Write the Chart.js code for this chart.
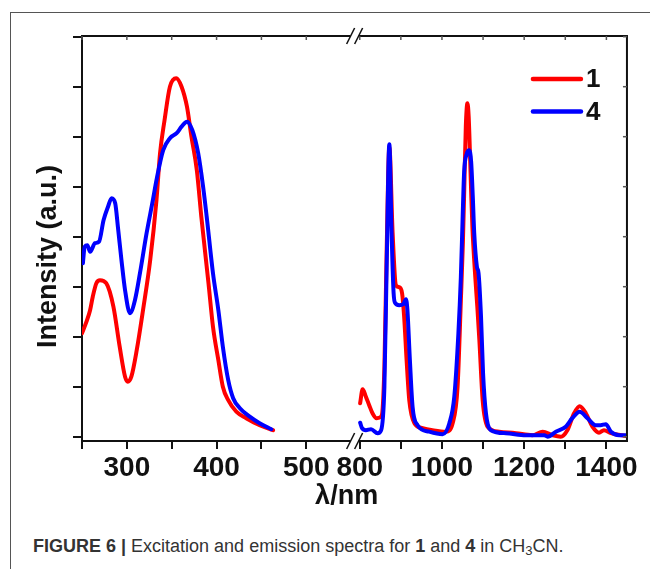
<!DOCTYPE html>
<html><head><meta charset="utf-8">
<script src="https://cdn.jsdelivr.net/npm/chart.js@4.4.0/dist/chart.umd.min.js"></script>
<style>
html,body{margin:0;padding:0;background:#fff;width:650px;height:569px;overflow:hidden;}
#frame{position:absolute;left:10px;top:12px;width:700px;height:600px;border-left:1px solid #555;border-top:1px solid #555;}
#wrap{position:absolute;left:0;top:0;width:650px;height:525px;}
#caption{position:absolute;left:33px;top:536px;font:18px "Liberation Sans",Arial,sans-serif;color:#333;white-space:nowrap;}
#caption sub{font-size:13px;vertical-align:-3px;line-height:0;}
</style></head><body>
<div id="frame"></div>
<div id="wrap"><canvas id="c" width="650" height="525"></canvas></div>
<div id="caption"><b>FIGURE 6 |</b> Excitation and emission spectra for <b>1</b> and <b>4</b> in CH<sub>3</sub>CN.</div>
<script>
// ---- data ----
const seriesLabels = ['1', '4'];
const seriesColors = ['#ff0000', '#0000ff'];

// excitation, compound 1 (red)
const redExWl = [250,255,259,262,266,270,277,285,292,298,301,305,311,318,326,333,337,342,348,355,361,367,372,378,383,391,396,402,407,413,422,433,448,463];
const redExI  = [2.07,2.3,2.53,2.8,3.07,3.13,3.07,2.6,1.8,1.2,1.1,1.2,1.73,2.53,3.53,4.73,5.67,6.33,7.0,7.17,7.0,6.6,6.0,5.33,4.4,3.07,2.2,1.53,1.0,0.73,0.5,0.37,0.23,0.13];
// excitation, compound 4 (blue)
const blueExWl = [251,253,256,259,264.5,269,274,279,283,287,290,294,298,303.5,309,314.6,322,329,333,340.5,348,355.5,361,367,373,379.5,385,389,396,402,407,413,418.5,426,437,448,461];
const blueExI  = [3.47,3.8,3.83,3.7,3.87,3.9,4.33,4.6,4.77,4.67,4.2,3.53,2.93,2.47,2.73,3.27,4.07,4.73,5.13,5.73,5.97,6.07,6.2,6.3,6.13,5.67,5.0,4.4,3.27,2.53,1.8,1.13,0.77,0.57,0.4,0.27,0.15];
// emission, compound 1 (red)
const redEmWl = [801,807,815,823,831,841,852,860,865.5,872,880,888,896,903,908,914,920.5,933,953,977,1010,1026,1038,1046,1051,1055,1058,1062,1065,1068,1071,1074,1081,1086,1091,1099,1111,1139,1180,1220,1245,1269,1289,1305,1321.5,1335,1350,1366,1382,1394,1411,1450];
const redEmI  = [0.67,0.95,0.8,0.63,0.47,0.37,0.4,1.4,3.73,5.8,4.07,3.03,2.99,2.87,2.4,1.53,0.73,0.27,0.17,0.13,0.1,0.27,1.0,2.73,3.9,5.2,6.2,6.67,6.4,5.7,4.9,4.2,3.2,2.6,1.93,0.73,0.2,0.1,0.07,0.03,0.1,0.03,0.0,0.13,0.47,0.61,0.47,0.2,0.08,0.13,0.07,0.01];
// emission, compound 4 (blue)
const blueEmWl = [801,805.6,815,827.5,843.5,852,860,865.5,872,877.5,882.4,886.5,896,906,912.5,916,922,928.5,940.7,969,1001.5,1018,1030,1040,1046,1050,1054,1060,1066,1071,1075,1078.5,1085,1089,1095,1100,1107,1119,1155.5,1204,1249,1257,1277,1301,1317,1335,1354,1374,1386,1398.5,1411,1431,1450];
const blueEmI  = [0.28,0.17,0.13,0.15,0.07,0.13,1.0,3.4,5.85,4.07,2.87,2.67,2.63,2.65,2.75,2.53,1.53,0.6,0.23,0.1,0.05,0.27,0.8,2.07,3.2,4.3,5.3,5.65,5.73,5.5,4.8,4.07,3.4,3.27,2.4,1.27,0.47,0.13,0.07,0.03,0.03,0.0,0.1,0.2,0.37,0.5,0.37,0.23,0.23,0.25,0.1,0.03,0.03];

// axes
const x1Ticks = [250,300,350,400,450,500];
const x1Labels = [300,400,500];
const x2Ticks = [800,900,1000,1100,1200,1300,1400];
const x2Labels = [800,1000,1200,1400];
const yTicks = [0,1,2,3,4,5,6,7,8];
const xTitle = 'λ/nm';
const yTitle = 'Intensity (a.u.)';

// ---- chart ----
const pts = (xs, ys) => xs.map((x, i) => ({x: x, y: ys[i]}));
const tickFont = {family: '"Liberation Sans Narrow","Liberation Sans",Arial,sans-serif', size: 28, weight: 'bold'};
const boldFam = '"Liberation Sans",Arial,sans-serif';

function ds(label, color, xs, ys, xAxis, order) {
  return {label: label, data: pts(xs, ys), xAxisID: xAxis, yAxisID: 'y', borderColor: color,
    backgroundColor: color, borderWidth: 4, pointRadius: 0, fill: false, order: order,
    cubicInterpolationMode: 'monotone', borderJoinStyle: 'round', borderCapStyle: 'round'};
}

const decor = {
  id: 'decor',
  afterDraw(chart) {
    const {ctx, chartArea: a, scales} = chart;
    ctx.save();
    ctx.strokeStyle = '#111'; ctx.lineWidth = 2;
    ctx.beginPath(); ctx.moveTo(a.left - 1, a.top); ctx.lineTo(a.right, a.top); ctx.lineTo(a.right, a.bottom + 1); ctx.stroke();
    // mirrored inner ticks
    ctx.lineWidth = 1.5; ctx.strokeStyle = '#555';
    for (const id of ['x1', 'x2']) {
      const s = scales[id];
      for (const t of s.ticks) {
        const px = s.getPixelForValue(t.value);
        ctx.beginPath(); ctx.moveTo(px, a.top); ctx.lineTo(px, a.top + 4); ctx.stroke();
      }
    }
    const ys = scales.y;
    for (const t of ys.ticks) {
      const py = ys.getPixelForValue(t.value);
      ctx.beginPath(); ctx.moveTo(a.right, py); ctx.lineTo(a.right - 4, py); ctx.stroke();
    }
    // axis break marks
    const bx = scales.x1.right;
    const c1 = bx - 5, c2 = bx + 3;
    for (const yy of [a.top, a.bottom]) {
      ctx.fillStyle = '#fff'; ctx.fillRect(c1, yy - 2, c2 - c1, 4);
      ctx.strokeStyle = '#111'; ctx.lineWidth = 1.6;
      for (const cx of [c1, c2]) {
        ctx.beginPath(); ctx.moveTo(cx - 4, yy + 8); ctx.lineTo(cx + 4, yy - 8); ctx.stroke();
      }
    }
    // legend
    ctx.lineCap = 'round'; ctx.lineWidth = 4.5;
    ctx.font = 'bold 26px ' + boldFam; ctx.textAlign = 'left'; ctx.textBaseline = 'middle';
    seriesLabels.forEach((lab, i) => {
      const ly = a.top + 43 + i * 32.5;
      ctx.strokeStyle = seriesColors[i];
      ctx.beginPath(); ctx.moveTo(a.right - 94, ly); ctx.lineTo(a.right - 46, ly); ctx.stroke();
      ctx.fillStyle = '#111'; ctx.fillText(lab, a.right - 41, ly + 1);
    });
    // x title
    ctx.font = 'bold 27px ' + boldFam; ctx.textAlign = 'center'; ctx.fillStyle = '#111';
    ctx.fillText(xTitle, bx - 9, 497);
    // y title
    ctx.translate(49, (a.top + a.bottom) / 2 + 18);
    ctx.rotate(-Math.PI / 2);
    ctx.fillText(yTitle, 0, 0);
    ctx.restore();
  }
};

const xAxis = (ticks, labels, min, max, weight) => ({
  type: 'linear', position: 'bottom', stack: 'xb', stackWeight: weight, min: min, max: max, offset: false,
  afterBuildTicks: s => { s.ticks = ticks.map(v => ({value: v})); },
  afterFit: s => { s.height = 84; },
  ticks: {callback: v => labels.includes(v) ? String(v) : '', autoSkip: false, maxRotation: 0, minRotation: 0,
    padding: 2, font: tickFont, color: '#111'},
  grid: {drawOnChartArea: false, drawTicks: true, tickLength: 8, lineWidth: 2, color: '#111', tickColor: '#111'},
  border: {display: true, width: 2, color: '#111'}
});

new Chart(document.getElementById('c'), {
  type: 'line',
  data: {datasets: [
    ds(seriesLabels[1], seriesColors[1], blueExWl, blueExI, 'x1', 1),
    ds(seriesLabels[1], seriesColors[1], blueEmWl, blueEmI, 'x2', 1),
    ds(seriesLabels[0], seriesColors[0], redExWl, redExI, 'x1', 2),
    ds(seriesLabels[0], seriesColors[0], redEmWl, redEmI, 'x2', 2)
  ]},
  options: {
    responsive: false, animation: false, devicePixelRatio: 1,
    layout: {padding: {top: 36, right: 22, left: 0, bottom: 0}},
    plugins: {legend: {display: false}, tooltip: {enabled: false}},
    scales: {
      x1: xAxis(x1Ticks, x1Labels, 250, 555, 273.9),
      x2: xAxis(x2Ticks, x2Labels, 790, 1450, 271.6),
      y: {
        position: 'left', min: -0.086, max: 8.014,
        afterBuildTicks: s => { s.ticks = yTicks.map(v => ({value: v})); },
        afterFit: s => { s.width = 82; },
        ticks: {callback: () => '', padding: 0},
        grid: {drawOnChartArea: false, drawTicks: true, tickLength: 9, lineWidth: 2, color: '#111', tickColor: '#111'},
        border: {display: true, width: 2, color: '#111'},
        title: {display: false, text: yTitle}
      }
    }
  },
  plugins: [decor]
});
</script>
</body></html>
